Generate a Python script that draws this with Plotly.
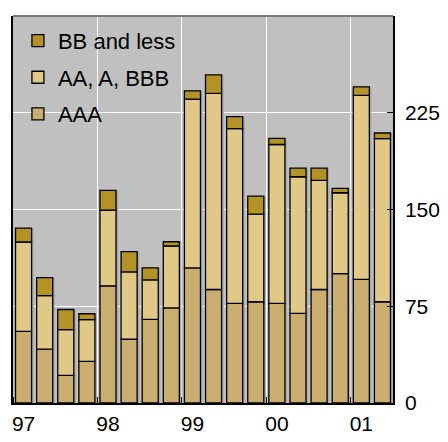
import plotly.graph_objects as go

quarters = list(range(18))
aaa = [55.6, 41.7, 21.4, 32.2, 90.8, 49.4, 64.8, 73.8, 104.7, 88.0, 77.2, 78.5, 77.2, 69.4, 88.0, 100.3, 95.9, 78.5]
aa_a_bbb = [69.2, 41.6, 35.5, 32.4, 58.6, 52.2, 30.6, 47.9, 130.9, 152.0, 135.5, 67.9, 123.2, 106.0, 84.6, 62.7, 142.5, 126.5]
bb_less = [10.8, 13.9, 15.6, 4.6, 15.5, 15.7, 9.3, 3.3, 6.4, 14.4, 9.3, 13.9, 4.8, 6.7, 9.5, 3.4, 6.7, 4.3]
year_tick_pos = [0, 4, 8, 12, 16]
year_labels = ["97", "98", "99", "00", "01"]
y_ticks = [0, 75, 150, 225]

FONT = "Arial, Liberation Sans, sans-serif"

base_aa = [a for a in aaa]
base_bb = [a + b for a, b in zip(aaa, aa_a_bbb)]
totals = [a + b + c for a, b, c in zip(aaa, aa_a_bbb, bb_less)]

fig = go.Figure()
# subtle drop shadow behind each bar
fig.add_trace(go.Bar(
    x=[q + 0.1 for q in quarters], y=totals, width=0.76,
    marker=dict(color="#A9A9A9", line=dict(width=0)),
    showlegend=False, hoverinfo="skip",
))
series = [
    ("AAA", aaa, [0] * 18, "#C9AE6F", 3),
    ("AA, A, BBB", aa_a_bbb, base_aa, "#E0C987", 2),
    ("BB and less", bb_less, base_bb, "#B39325", 1),
]
for name, vals, base, col, rank in series:
    fig.add_trace(go.Bar(
        x=quarters, y=vals, base=base, name=name, legendgroup=name, legendrank=rank,
        marker=dict(color=col, line=dict(color="black", width=1.3)),
        width=0.76,
    ))

# figure sized so the page (with 8px body margin) fills the 448x442 window
fig.update_layout(
    barmode="overlay",
    width=432, height=426,
    margin=dict(l=5, r=47, t=8, b=31),
    paper_bgcolor="white",
    plot_bgcolor="#C0C0C0",
    font=dict(family=FONT, size=22, color="black"),
    showlegend=True,
    legend=dict(
        x=0.013, y=0.99, xanchor="left", yanchor="top",
        bgcolor="rgba(0,0,0,0)", traceorder="grouped",
        tracegroupgap=5, itemwidth=30,
        font=dict(family=FONT, size=22),
    ),
    xaxis=dict(
        range=[-0.5, 17.5],
        tickvals=year_tick_pos, ticktext=year_labels,
        showgrid=False, ticks="", zeroline=False,
        showline=True, linecolor="black", linewidth=1.5,
        ticklabelstandoff=1, automargin=False,
        tickfont=dict(family=FONT, size=21),
        minor=dict(tick0=-0.5, dtick=4, showgrid=True, gridcolor="white", gridwidth=1,
                   ticks="inside", ticklen=6, tickcolor="black"),
        fixedrange=True,
    ),
    yaxis=dict(
        side="right", range=[0, 300],
        tickvals=y_ticks, ticktext=[str(v) for v in y_ticks],
        showgrid=True, gridcolor="white", gridwidth=1,
        ticks="inside", ticklen=6, tickcolor="black",
        showline=True, linecolor="black", linewidth=1.5, mirror=True,
        zeroline=False, ticklabelstandoff=6, automargin=False,
        tickfont=dict(family=FONT, size=21),
        fixedrange=True,
    ),
    shapes=[dict(type="line", xref="paper", yref="paper", x0=0, x1=1, y0=1, y1=1,
                 line=dict(color="#777777", width=2))],
)

fig.write_html("out.html")
